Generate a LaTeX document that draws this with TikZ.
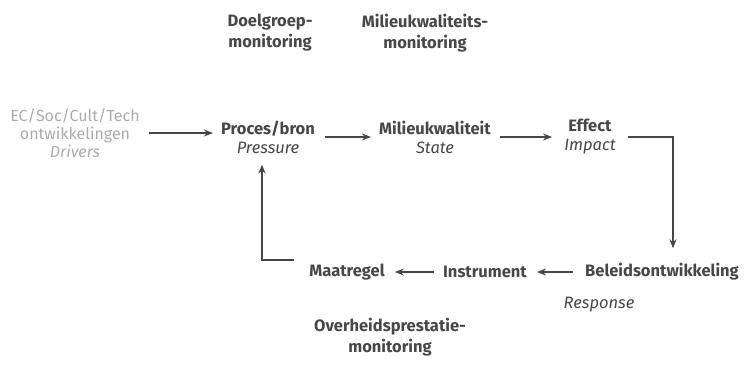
\documentclass[tikz,border=0pt]{standalone}
\usepackage{fontspec}
\setmainfont{Fira Sans}
\usetikzlibrary{arrows.meta}
\definecolor{ink}{HTML}{474747}
\definecolor{pale}{HTML}{ABABAB}
\begin{document}
\begin{tikzpicture}[x=1pt,y=-1pt,
  every node/.style={inner sep=1pt, align=center, text=ink,
    font=\fontsize{16.5}{19}\selectfont},
  concept/.style={font=\fontsize{16.5}{21}\selectfont\bfseries},
  flow/.style={draw=ink, line width=1.6pt, -{Stealth[length=9pt,width=7pt]}},
  elbow/.style={draw=ink, line width=1.2pt, -{Stealth[length=9pt,width=7pt]}}]
\useasboundingbox (0,0) rectangle (748,384);

% monitoring labels
\node[concept] (mdoel) at (270,33) {Doelgroep-\\monitoring};
\node[concept] (mmil)  at (425,33) {Milieukwaliteits-\\monitoring};
\node[concept] (moverh) at (390,337) {Overheidsprestatie-\\monitoring};

% DPSIR chain
\node[text=pale, font=\fontsize{16}{18}\selectfont] (drv) at (75,133) {EC/Soc/Cult/Tech\\ontwikkelingen\\\textit{Drivers}};
\node (pro) at (268,137) {\textbf{Proces/bron}\\\textit{Pressure}};
\node (sta) at (435,137) {\textbf{Milieukwaliteit}\\\textit{State}};
\node (imp) at (590,137) {\textbf{Effect}\\\textit{Impact}};
\node[concept] (bel) at (662,272) {Beleidsontwikkeling};
\node (resp) at (599,305) {\textit{Response}};
\node[concept] (ins) at (485,272) {Instrument};
\node[concept] (maa) at (347,272) {Maatregel};

% connectors
\draw[flow] ([xshift=8pt]drv.east) -- ([xshift=-7pt]drv.east -| pro.west);
\draw[flow] ([xshift=9pt]pro.east) -- ([xshift=-7pt]sta.west);
\draw[flow] ([xshift=8pt]sta.east) -- ([xshift=-11pt]imp.west);
\draw[elbow] ([xshift=11pt]imp.east) -| ([xshift=11pt,yshift=14pt]bel.north);
\draw[flow] ([xshift=-11pt]bel.west) -- ([xshift=9pt]ins.east);
\draw[flow] ([xshift=-8pt]ins.west) -- ([xshift=9pt]maa.east);
\draw[elbow] ([xshift=-14pt,yshift=12pt]maa.west) -| ([xshift=-6pt,yshift=-10pt]pro.south);
\end{tikzpicture}
\end{document}
